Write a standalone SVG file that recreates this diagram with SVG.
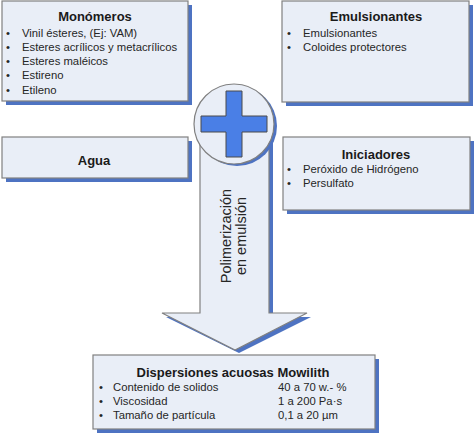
<svg xmlns="http://www.w3.org/2000/svg" width="474" height="433" viewBox="0 0 474 433">
<style>
.box{fill:#E9EEF7;stroke:#808080;stroke-width:1.2}
.sh{fill:#4E73C2}
.t{font-family:"Liberation Sans",Arial,sans-serif;font-size:11.3px;fill:#262626}
.b{font-family:"Liberation Sans",Arial,sans-serif;font-size:13px;font-weight:bold;fill:#1a1a1a}
.r{font-family:"Liberation Sans",Arial,sans-serif;font-size:14.5px;fill:#262626;text-anchor:middle}
.mid{text-anchor:middle}
</style>
<rect width="474" height="433" fill="#ffffff"/>
<g id="connectors">
<polygon class="sh" points="204,134 273,134 273,317 311,317 239,353 166,317 204,317"/>
<polygon class="box" points="200,130 269,130 269,313 307,313 235,350 162,313 200,313"/>
<text class="r" transform="translate(231,236) rotate(-90)">Polimerización</text>
<text class="r" transform="translate(246,236) rotate(-90)">en emulsión</text>
</g>
<g id="monomeros">
<rect class="sh" x="6" y="5" width="186" height="100"/>
<rect class="box" x="2" y="1" width="186" height="100"/>
<text class="b mid" x="95" y="21">Monómeros</text>
<text class="t" x="6" y="37">•</text><text class="t" x="22" y="37">Vinil ésteres, (Ej: VAM)</text>
<text class="t" x="6" y="51">•</text><text class="t" x="22" y="51">Esteres acrílicos y metacrílicos</text>
<text class="t" x="6" y="65">•</text><text class="t" x="22" y="65">Esteres maléicos</text>
<text class="t" x="6" y="79">•</text><text class="t" x="22" y="79">Estireno</text>
<text class="t" x="6" y="94">•</text><text class="t" x="22" y="94">Etileno</text>
</g>
<g id="emulsionantes">
<rect class="sh" x="286" y="5" width="187" height="101"/>
<rect class="box" x="282" y="1" width="187" height="101"/>
<text class="b mid" x="376" y="21">Emulsionantes</text>
<text class="t" x="287" y="37">•</text><text class="t" x="303" y="37">Emulsionantes</text>
<text class="t" x="287" y="51">•</text><text class="t" x="303" y="51">Coloides protectores</text>
</g>
<g id="agua">
<rect class="sh" x="6" y="141" width="186" height="41"/>
<rect class="box" x="2" y="137" width="186" height="41"/>
<text class="b mid" x="94" y="165">Agua</text>
</g>
<g id="iniciadores">
<rect class="sh" x="287" y="141" width="187" height="73"/>
<rect class="box" x="283" y="137" width="187" height="73"/>
<text class="b mid" x="376" y="159">Iniciadores</text>
<text class="t" x="287" y="173">•</text><text class="t" x="303" y="173">Peróxido de Hidrógeno</text>
<text class="t" x="287" y="187">•</text><text class="t" x="303" y="187">Persulfato</text>
</g>
<g id="mas">
<circle class="sh" cx="237" cy="126" r="40"/>
<circle class="box" cx="234" cy="124" r="40"/>
<path d="M226,91 H242 V116 H267 V132 H242 V157 H226 V132 H201 V116 H226 Z" fill="#4A7FE6" stroke="#4a4a4a" stroke-width="1"/>
</g>
<g id="dispersiones">
<rect class="sh" x="97" y="359" width="282" height="74"/>
<rect class="box" x="93" y="355" width="282" height="74"/>
<text class="b mid" x="233" y="377">Dispersiones acuosas Mowilith</text>
<text class="t" x="99" y="391">•</text><text class="t" x="113" y="391">Contenido de solidos</text><text class="t" x="278" y="391">40 a 70 w.- %</text>
<text class="t" x="99" y="405">•</text><text class="t" x="113" y="405">Viscosidad</text><text class="t" x="278" y="405">1 a 200 Pa·s</text>
<text class="t" x="99" y="419">•</text><text class="t" x="113" y="419">Tamaño de partícula</text><text class="t" x="278" y="419">0,1 a 20 µm</text>
</g>
</svg>
